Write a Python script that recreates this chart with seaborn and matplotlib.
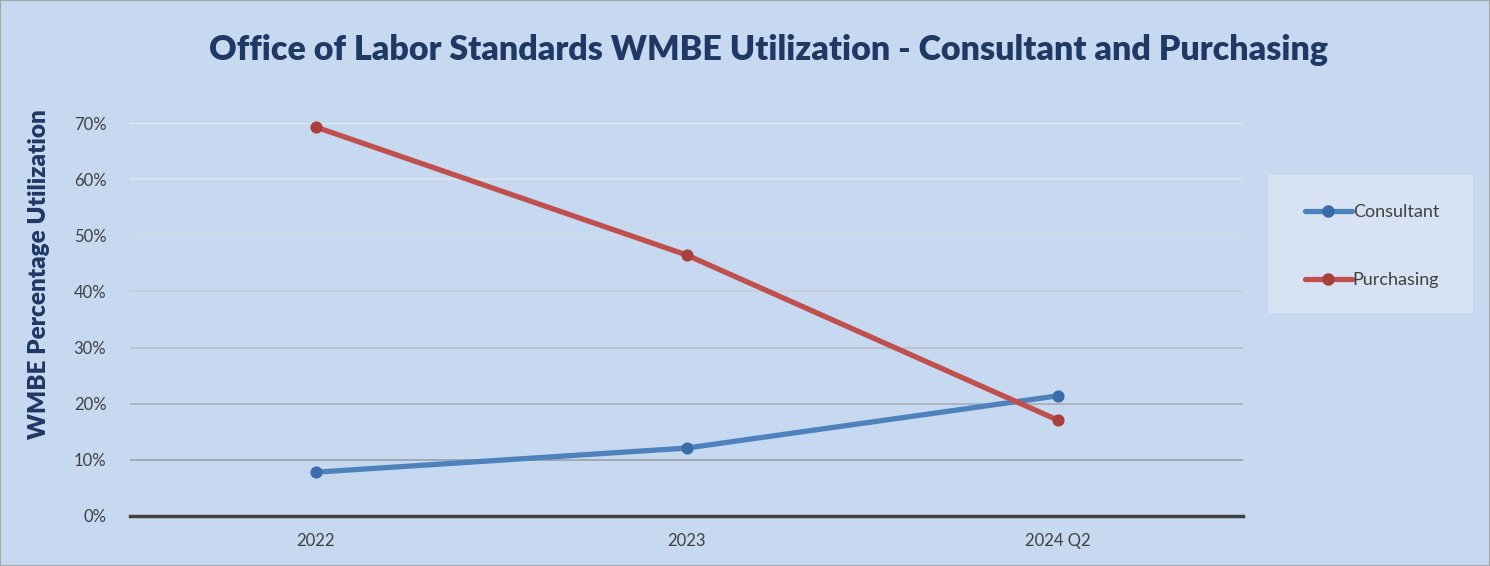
import matplotlib
matplotlib.use("Agg")
import matplotlib.pyplot as plt
import seaborn as sns
import pandas as pd
from matplotlib.ticker import PercentFormatter
from matplotlib.lines import Line2D

categories = ["2022", "2023", "2024 Q2"]
consultant = [0.078, 0.121, 0.214]
purchasing = [0.693, 0.465, 0.171]
yticks = [0.0, 0.1, 0.2, 0.3, 0.4, 0.5, 0.6, 0.7]

df = pd.DataFrame({
    "Year": categories * 2,
    "Value": consultant + purchasing,
    "Series": ["Consultant"] * 3 + ["Purchasing"] * 3,
})
df["x"] = list(range(len(categories))) * 2

sns.set_theme(style="white")
plt.rcParams['font.family'] = ['Lato', 'DejaVu Sans']

W, H = 1490, 566
bg = "#C6D9F1"
fig = plt.figure(figsize=(W/100, H/100), dpi=100, facecolor=bg)
ax = fig.add_axes([130/W, 1 - 516/H, (1243-130)/W, (516-123)/H])
ax.set_facecolor(bg)

palette = {"Consultant": "#4F81BD", "Purchasing": "#C0504D"}
mcolors = {"Consultant": "#3B6CAA", "Purchasing": "#A8403D"}

# gridlines
grid_cols = ["#e8eef6", "#dde5ef", "#d3dbe6", "#c6ced9", "#b8c0cb", "#aab1bb", "#9ea4ad"]
for yv, c in zip(yticks[1:][::-1], grid_cols):
    ax.axhline(yv, color=c, lw=1.3, zorder=0)

sns.lineplot(data=df, x="x", y="Value", hue="Series", palette=palette,
             lw=3.8, marker="o", markersize=8, ax=ax, legend=False, zorder=3)
for ln, s in zip(ax.get_lines()[-2:], ["Consultant", "Purchasing"]):
    ln.set_markerfacecolor(mcolors[s])
    ln.set_markeredgecolor(mcolors[s])
    ln.set_clip_on(False)

ax.set_xlim(-0.5, 2.5)
ax.set_ylim(0, 0.70)
ax.set_xticks(range(len(categories)))
ax.set_xticklabels(categories)
ax.set_yticks(yticks)
ax.yaxis.set_major_formatter(PercentFormatter(1.0, decimals=0))
ax.tick_params(axis="both", labelsize=12, colors="#404040", length=0)
ax.tick_params(axis="y", pad=17)
ax.tick_params(axis="x", pad=12)
for sp in ["top", "right", "left"]:
    ax.spines[sp].set_visible(False)
ax.spines["bottom"].set_color("#404040")
ax.spines["bottom"].set_linewidth(2.5)
ax.spines["bottom"].set_zorder(4)
ax.set_xlabel("")
ax.set_ylabel("WMBE Percentage Utilization", fontsize=17.5, fontweight="heavy",
              color="#1F3864")
ax.yaxis.set_label_coords((50 - 130) / 1113, (516 - 274) / 393)

fig.text(768/W, 1 - 50/H, "Office of Labor Standards WMBE Utilization - Consultant and Purchasing",
         ha="center", va="center", fontsize=24.5, fontweight="heavy", color="#1F3864")

# legend background box
fig.patches.append(plt.Rectangle((1268/W, 1 - 313/H), (1473-1268)/W, (313-175)/H,
                                 transform=fig.transFigure, facecolor="#D7E3F2",
                                 edgecolor="none", zorder=0))
handles = [Line2D([0], [0], color=palette[s], lw=3.8, marker="o", markersize=8,
                  markerfacecolor=mcolors[s], markeredgecolor=mcolors[s]) for s in ["Consultant", "Purchasing"]]
leg = fig.legend(handles, ["Consultant", "Purchasing"], loc="upper left",
                 bbox_to_anchor=(1305/W, 1 - 204/H), frameon=False, fontsize=13,
                 labelspacing=2.9, handlelength=2.6, handletextpad=0.05,
                 borderpad=0, borderaxespad=0)
for t in leg.get_texts():
    t.set_color("#404040")

fig.patches.append(plt.Rectangle((0, 0), 1, 1, transform=fig.transFigure,
                                 fill=False, edgecolor="#A6A6A6", lw=1.5))

fig.savefig("out.png", dpi=100, facecolor=bg)
